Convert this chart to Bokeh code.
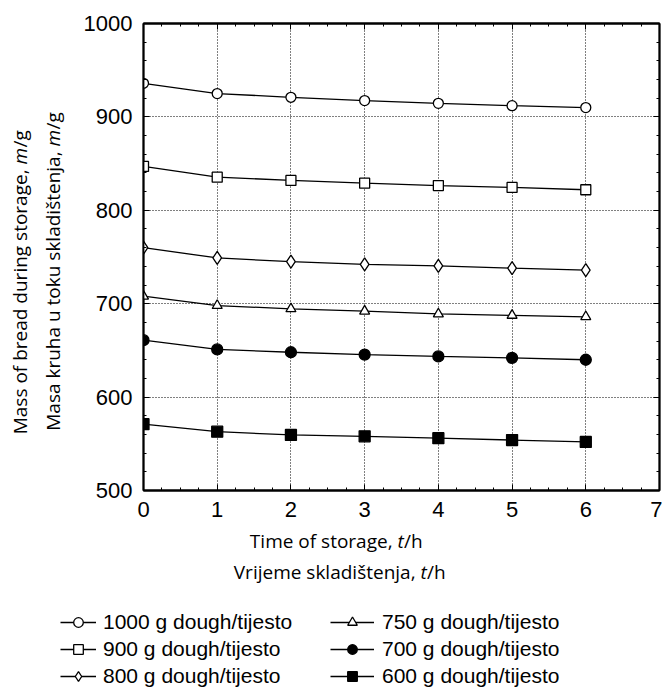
import math
from bokeh.plotting import figure
from bokeh.layouts import column, row
from bokeh.models import (Range1d, LinearAxis, SingleIntervalTicker, Label,
                          Legend, LegendItem)
from bokeh.embed import file_html
from bokeh.resources import INLINE

# ---------------- data ----------------
time_h = [0, 1, 2, 3, 4, 5, 6]
mass_1000 = [936, 925, 921, 917.5, 914.5, 912, 910]
mass_900 = [847, 835.5, 832, 829, 826.5, 824.5, 822]
mass_800 = [760, 749, 745, 742, 740.5, 738, 736]
mass_750 = [708, 698, 694.5, 692, 689, 687.5, 686]
mass_700 = [661, 651, 648, 645.5, 643.5, 642, 640]
mass_600 = [571, 563, 559.5, 558, 556, 554, 552]

series_labels = ["1000 g dough/tijesto", "900 g dough/tijesto", "800 g dough/tijesto",
                 "750 g dough/tijesto", "700 g dough/tijesto", "600 g dough/tijesto"]
series_values = [mass_1000, mass_900, mass_800, mass_750, mass_700, mass_600]
series_markers = ["circle", "square", "diamond", "triangle", "circle", "square"]
series_fill = ["white", "white", "white", "white", "black", "black"]
series_size = [10, 10, 13, 10, 11, 11]

x_start, x_end, x_step = 0, 7, 1
y_start, y_end, y_step = 500, 1000, 100

# ---------------- layout constants (page pixels) ----------------
TOTAL_W, TOTAL_H = 662, 694
LEFT_W = 70                 # strip holding the rotated y titles
MAIN_H = 526                # height of the plot row
BOT_H = TOTAL_H - MAIN_H    # strip holding x titles + legend
FRAME_L, FRAME_R, FRAME_T, FRAME_B = 143, 659, 23, 490

# ---------------- main plot ----------------
p = figure(width=TOTAL_W - LEFT_W, height=MAIN_H,
           x_range=Range1d(x_start, x_end), y_range=Range1d(y_start, y_end),
           output_backend="svg", toolbar_location=None,
           min_border_left=FRAME_L - LEFT_W, min_border_right=TOTAL_W - FRAME_R,
           min_border_top=FRAME_T, min_border_bottom=MAIN_H - FRAME_B,
           background_fill_color="white", border_fill_color="white")
p.outline_line_color = "black"
p.outline_line_width = 1.8

def style_axis(ax, ticker, show_labels):
    ax.ticker = ticker
    ax.axis_line_color = "black"
    ax.axis_line_width = 1.8
    ax.major_tick_in = 6
    ax.major_tick_out = 0
    ax.minor_tick_in = 3
    ax.minor_tick_out = 0
    ax.major_tick_line_color = "black"
    ax.minor_tick_line_color = "black"
    ax.major_label_text_font = "Liberation Sans"
    if show_labels:
        ax.major_label_text_color = "black"
        ax.major_label_text_font_size = "22px"
    else:
        ax.major_label_text_color = None
        ax.major_label_text_font_size = "0px"
        ax.major_label_standoff = 0

style_axis(p.xaxis[0], SingleIntervalTicker(interval=x_step, num_minor_ticks=4), True)
style_axis(p.yaxis[0], SingleIntervalTicker(interval=y_step, num_minor_ticks=5), True)
p.xaxis[0].major_label_standoff = 11
p.yaxis[0].major_label_standoff = 11
top_ax = LinearAxis()
right_ax = LinearAxis()
style_axis(top_ax, SingleIntervalTicker(interval=x_step, num_minor_ticks=4), False)
style_axis(right_ax, SingleIntervalTicker(interval=y_step, num_minor_ticks=5), False)
p.add_layout(top_ax, "above")
p.add_layout(right_ax, "right")

for g in (p.xgrid[0], p.ygrid[0]):
    g.grid_line_color = "black"
    g.grid_line_dash = "1 2"
    g.grid_line_width = 1
    g.grid_line_alpha = 1.0

for vals, mk, fc, sz in zip(series_values, series_markers, series_fill, series_size):
    p.line(time_h, vals, line_color="black", line_width=1.3)
    p.scatter(time_h, vals, marker=mk, size=sz, line_color="black",
              fill_color=fc, line_width=1.3)

# ---------------- helper for text strips ----------------
def strip(w, h):
    f = figure(width=w, height=h, x_range=Range1d(-100, -99), y_range=Range1d(-100, -99),
               output_backend="svg", toolbar_location=None,
               x_axis_type=None, y_axis_type=None,
               min_border=0, min_border_left=0, min_border_right=0,
               min_border_top=0, min_border_bottom=0)
    f.outline_line_color = None
    f.background_fill_color = "white"
    f.border_fill_color = "white"
    return f

def lab(text, X, Y, top, h, size, italic=False, align="left", angle=0.0, baseline="alphabetic"):
    # X, Y: page pixel position of the text anchor
    return Label(x=X, y=(top + h) - Y, x_units="screen", y_units="screen", text=text,
                 text_font="Open Sans", text_font_size=f"{size}px",
                 text_font_style="italic" if italic else "normal",
                 text_align=align, text_baseline=baseline, angle=angle,
                 text_color="black")

# ---------------- left strip: y titles ----------------
ls = strip(LEFT_W, MAIN_H)
rot = math.pi / 2
DX_ROT, DY_ROT = -9, 45     # empirical anchor correction for rotated text
for main, xb, ye in (("Mass of bread during storage, ", 28, 155),
                     ("Masa kruha u toku skladištenja, ", 61, 137)):
    ls.add_layout(lab(main, xb + DX_ROT, ye + DY_ROT, 0, MAIN_H, 19, align="right", angle=rot))
    ls.add_layout(lab("m", xb + DX_ROT, ye + DY_ROT, 0, MAIN_H, 19, italic=True, angle=rot))
    ls.add_layout(lab("/g", xb + DX_ROT, ye + DY_ROT - 17, 0, MAIN_H, 19, angle=rot))

# ---------------- bottom strip: x titles + legend ----------------
bs = strip(TOTAL_W, BOT_H)
for main, xe, ytop in (("Time of storage, ", 397, MAIN_H + 1), ("Vrijeme skladištenja, ", 420, 558)):
    bs.add_layout(lab(main, xe, ytop, MAIN_H, BOT_H, 19, align="right", baseline="top"))
    bs.add_layout(lab("t", xe, ytop, MAIN_H, BOT_H, 19, italic=True, baseline="top"))
    bs.add_layout(lab("/h", xe + 6.5, ytop, MAIN_H, BOT_H, 19, baseline="top"))

# legend glyph renderers (same series, drawn outside this strip's visible range)
items = []
for lbl, vals, mk, fc, sz in zip(series_labels, series_values, series_markers, series_fill, series_size):
    r1 = bs.line(time_h, vals, line_color="black", line_width=1.3)
    r2 = bs.scatter(time_h, vals, marker=mk, size=sz, line_color="black",
                    fill_color=fc, line_width=1.3)
    items.append(LegendItem(label=lbl, renderers=[r1, r2]))

ITEM_H, SPACE = 24, 3
LEG_TOP = 610
leg_h = 3 * ITEM_H + 2 * SPACE

def make_legend(its, left_px, gw, standoff):
    return Legend(items=its, location=(left_px, (MAIN_H + BOT_H) - (LEG_TOP + leg_h)),
                  orientation="vertical", background_fill_alpha=0, border_line_alpha=0,
                  padding=0, margin=0, spacing=SPACE, glyph_width=gw, glyph_height=ITEM_H,
                  label_height=ITEM_H, label_standoff=standoff,
                  label_text_font="Liberation Sans", label_text_font_size="21px",
                  label_text_color="black")

bs.add_layout(make_legend(items[:3], 60, 36, 7))
bs.add_layout(make_legend(items[3:], 330, 44, 8))

layout = column(row(ls, p, spacing=0), bs, spacing=0)
open("out.html", "w").write(file_html(layout, INLINE))
